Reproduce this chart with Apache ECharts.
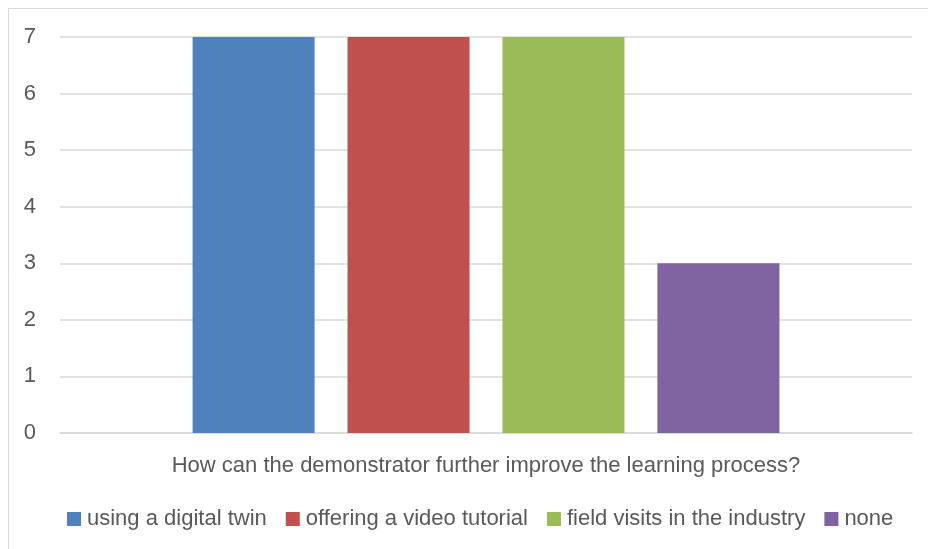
<!DOCTYPE html>
<html><head><meta charset="utf-8">
<script src="https://cdn.jsdelivr.net/npm/echarts@6/dist/echarts.min.js"></script>
<style>html,body{margin:0;padding:0;background:#fff}#c{width:928px;height:549px}</style>
</head><body><div id="c"></div>
<script>
const categories = ['How can the demonstrator further improve the learning process?'];
const seriesNames = ['using a digital twin', 'offering a video tutorial', 'field visits in the industry', 'none'];
const seriesValues = [[7], [7], [7], [3]];
const colors = ['#4f81bd', '#c0504d', '#9bbb59', '#8064a2'];
const yTicks = [0, 1, 2, 3, 4, 5, 6, 7];

const chart = echarts.init(document.getElementById('c'), null, {renderer: 'canvas'});
const font = 'Liberation Sans';
chart.setOption({
  animation: false,
  textStyle: {fontFamily: font},
  graphic: [{type: 'rect', shape: {x: 8.5, y: 8.5, width: 2000, height: 2000}, style: {fill: 'none', stroke: '#d9d9d9', lineWidth: 1}, silent: true}],
  grid: {left: 60, right: 16, top: 37, bottom: 116, containLabel: false},
  legend: {
    data: seriesNames, bottom: 14, left: 62, itemWidth: 14, itemHeight: 14, itemGap: 19,
    icon: 'rect', textStyle: {color: '#595959', fontSize: 22, fontFamily: font, padding: [0, 0, 0, 1]}
  },
  xAxis: {
    type: 'category', data: categories,
    axisLine: {lineStyle: {color: '#d9d9d9', width: 1.5}}, axisTick: {show: false},
    axisLabel: {color: '#595959', fontSize: 22, margin: 22, fontFamily: font}
  },
  yAxis: {
    type: 'value', min: yTicks[0], max: yTicks[yTicks.length - 1], interval: 1,
    axisLine: {show: false}, axisTick: {show: false},
    splitLine: {lineStyle: {color: '#d9d9d9', width: 1.5}},
    axisLabel: {color: '#595959', fontSize: 22, margin: 24, fontFamily: font}
  },
  series: seriesNames.map((n, i) => ({
    name: n, type: 'bar', data: seriesValues[i], barWidth: 122, barGap: '27%',
    itemStyle: {color: colors[i]}
  }))
});
</script></body></html>
